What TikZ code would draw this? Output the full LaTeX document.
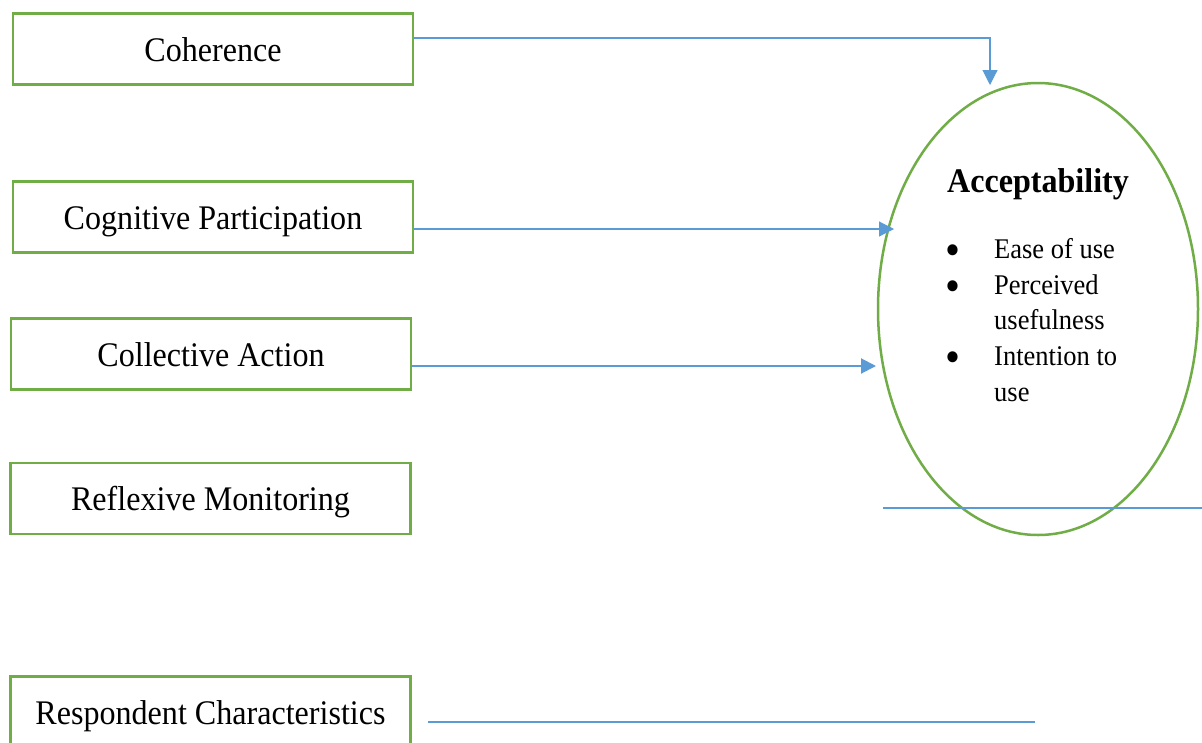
\documentclass[tikz,border=0pt]{standalone}
\usepackage{fontspec}
\setmainfont{Liberation Serif}[FakeStretch=0.93]
\usetikzlibrary{arrows.meta}
\definecolor{boxgreen}{RGB}{112,173,71}
\definecolor{linkblue}{RGB}{91,155,213}
\newcommand{\bigbul}{\hspace*{6pt}\makebox[0pt]{\smash{\raisebox{-7pt}{\fontsize{46}{36}\selectfont •}}}}
\tikzset{
  factor/.style={draw=boxgreen, line width=2.5pt, rectangle, minimum width=400pt, minimum height=71pt, inner sep=0pt, text height=25pt, text depth=1pt, font=\fontsize{34.5}{40}\selectfont},
  conn/.style={draw=linkblue, line width=1.1pt},
  tip/.style={-{Triangle[length=15pt,width=15pt]}},
  plainline/.style={draw=linkblue, line width=1.2pt}
}
\begin{document}
\begin{tikzpicture}[x=1pt,y=-1pt]
\useasboundingbox (0,0) rectangle (1202,742);
\fill[white] (0,0) rectangle (1202,742);
% factor boxes
\node[factor] (coh) at (213,49) {Coherence};
\node[factor] (cog) at (213,217) {Cognitive Participation};
\node[factor] (col) at (211,354) {Collective Action};
\node[factor] (ref) at (210.5,498.5) {Reflexive Monitoring};
\node[factor] (res) at (210.5,712) {Respondent Characteristics};
% acceptability ellipse
\draw[boxgreen, line width=2.5pt] (1038,309) ellipse [x radius=160, y radius=226];
\node[anchor=base, inner sep=0pt, font=\fontsize{34.5}{40}\selectfont\bfseries] (acc) at (1038,192) {Acceptability};
\node[anchor=north west, inner sep=0pt, font=\fontsize{28.5}{35.8}\selectfont] (list) at (947,233)
 {\begin{tabular}{@{}p{47pt}@{}l@{}}
 \bigbul& Ease of use\\
 \bigbul& Perceived\\
  & usefulness\\
 \bigbul& Intention to\\
  & use
 \end{tabular}};
% connector end points
\coordinate (cohstart) at ([yshift=11pt]coh.east);
\coordinate (cogstart) at ([yshift=-12pt]cog.east);
\coordinate (colstart) at ([yshift=-12pt]col.east);
\coordinate (cohend) at (990,85);
\coordinate (cogend) at (894,229);
\coordinate (colend) at (876,366);
\coordinate (lineA1) at (883,508);
\coordinate (lineA2) at (1202,508);
\coordinate (lineB1) at (428,722);
\coordinate (lineB2) at (1035,722);
% connectors
\draw[conn, tip] (cohstart) -| (cohend);
\draw[conn, tip] (cogstart) -- (cogstart -| cogend);
\draw[conn, line width=2pt, tip] (colstart) -- (colstart -| colend);
\draw[plainline] (lineA1) -- (lineA2);
\draw[plainline] (lineB1) -- (lineB2);
\end{tikzpicture}
\end{document}
